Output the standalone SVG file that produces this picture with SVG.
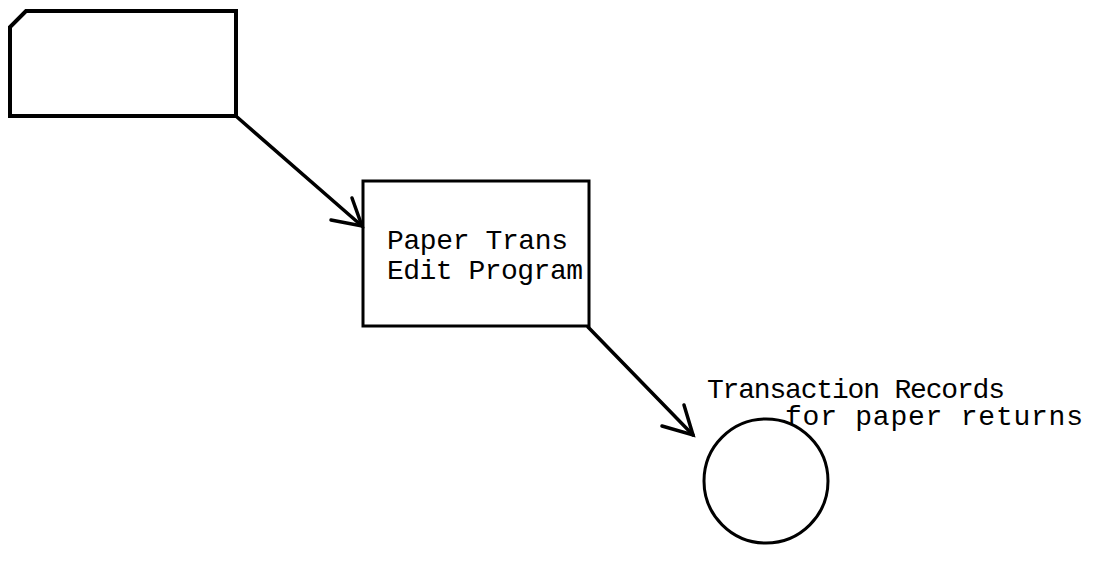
<svg xmlns="http://www.w3.org/2000/svg" width="1094" height="561" viewBox="0 0 1094 561">
<style>
.shape{fill:none;stroke:#000;stroke-width:3;stroke-linejoin:miter}
.card{stroke-width:4}
.conn{fill:none;stroke:#000;stroke-width:3.5;stroke-linecap:round}
.lbl{font-family:"Liberation Mono","DejaVu Sans Mono",monospace;font-size:28px;fill:#000}
</style>
<rect width="1094" height="561" fill="#fff"/>
<g id="card">
<path class="shape card" d="M26,11 L236,11 L236,116 L10,116 L10,27 Z"/>
</g>
<g id="edit-program">
<rect class="shape" x="363" y="181" width="226" height="145"/>
<text class="lbl" x="387" y="249" textLength="181" lengthAdjust="spacing">Paper Trans</text>
<text class="lbl" x="387" y="279" textLength="196" lengthAdjust="spacing">Edit Program</text>
</g>
<g id="transaction-records">
<circle class="shape" cx="766" cy="481" r="62"/>
<text class="lbl" x="707" y="398" textLength="298" lengthAdjust="spacing">Transaction Records</text>
<text class="lbl" x="785" y="425" textLength="298" lengthAdjust="spacing">for paper returns</text>
</g>
<g id="connectors">
<path class="conn" d="M237,117 L362,226"/>
<path class="conn" d="M352,198 L362,226 L331,220"/>
<path class="conn" d="M588,327 L693,435"/>
<path class="conn" d="M684,405 L693,435 L662,426"/>
</g>
</svg>
